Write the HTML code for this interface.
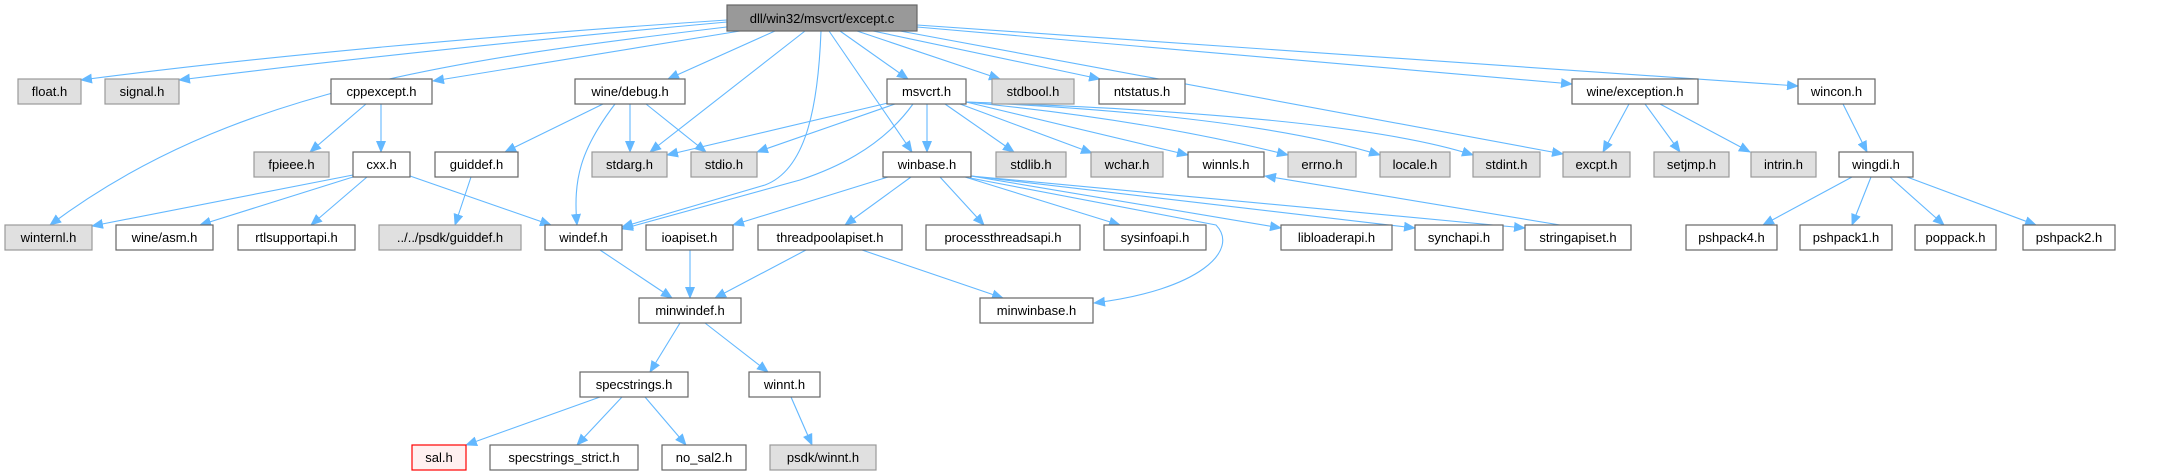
<!DOCTYPE html>
<html><head><meta charset="utf-8"><style>
html,body{margin:0;padding:0;background:#fff;}
svg{display:block;}
text{font-family:"Liberation Sans",sans-serif;font-size:13px;fill:#000;text-anchor:middle;}
.n{fill:#fff;stroke:#666;stroke-width:1.2;}
.g{fill:#e0e0e0;stroke:#999;stroke-width:1.2;}
.r{fill:#fff0f0;stroke:#f00;stroke-width:1.2;}
.t{fill:#999;stroke:#666;stroke-width:1.2;}
path{fill:none;stroke:#63b8ff;stroke-width:1.1;}
</style></head><body>
<svg width="2157" height="476" viewBox="0 0 2157 476" xmlns="http://www.w3.org/2000/svg">
<defs><marker id="a" markerUnits="userSpaceOnUse" markerWidth="12" markerHeight="10" refX="11" refY="5" orient="auto"><polygon points="0,0 12,5 0,10" fill="#63b8ff"/></marker></defs>
<g marker-end="url(#a)">
<path d="M727,20 Q350,45 81,80"/>
<path d="M727,22 Q420,50 179,80"/>
<path d="M735,26 C450,60 230,90 50,225"/>
<path d="M740,31 L433,81"/>
<path d="M775,31 L668,79"/>
<path d="M805,31 L650,152"/>
<path d="M821,31 C818,110 805,170 765,185 L622,227"/>
<path d="M829,31 L912,152"/>
<path d="M840,31 L908,79"/>
<path d="M857,31 L1000,79"/>
<path d="M873,31 L1100,79"/>
<path d="M900,31 L1563,154"/>
<path d="M917,27 L1572,84"/>
<path d="M917,25 L1798,86"/>
<path d="M366,104 L310,152"/>
<path d="M381,104 L381,152"/>
<path d="M353,175 L92,226"/>
<path d="M353,177 L200,225"/>
<path d="M367,177 L311,225"/>
<path d="M410,176 L551,225"/>
<path d="M603,104 L505,152"/>
<path d="M615,104 C580,150 573,180 577,225"/>
<path d="M630,104 L630,152"/>
<path d="M646,104 L706,152"/>
<path d="M471,177 L455,225"/>
<path d="M888,103 L667,155"/>
<path d="M895,104 L757,152"/>
<path d="M913,104 C880,150 830,170 800,180 L622,229"/>
<path d="M927,104 L927,152"/>
<path d="M945,104 L1014,152"/>
<path d="M960,104 L1092,153"/>
<path d="M966,102 L1188,155"/>
<path d="M966,102 Q1150,120 1288,155"/>
<path d="M966,102 Q1250,115 1380,155"/>
<path d="M966,102 Q1350,115 1473,155"/>
<path d="M888,177 L733,225"/>
<path d="M911,177 L845,225"/>
<path d="M940,177 L984,225"/>
<path d="M965,177 L1120,225"/>
<path d="M970,178 L1216,225 C1240,250 1200,290 1094,303"/>
<path d="M971,176 L1281,228"/>
<path d="M971,176 L1415,228"/>
<path d="M971,176 L1525,228"/>
<path d="M1560,225 L1265,176"/>
<path d="M600,250 L672,298"/>
<path d="M690,250 L690,298"/>
<path d="M806,250 L715,298"/>
<path d="M862,250 L1003,298"/>
<path d="M680,323 L650,372"/>
<path d="M705,323 L768,372"/>
<path d="M600,397 L466,445"/>
<path d="M622,397 L577,445"/>
<path d="M645,397 L686,445"/>
<path d="M791,397 L812,445"/>
<path d="M1629,104 L1603,152"/>
<path d="M1645,104 L1680,152"/>
<path d="M1660,104 L1750,152"/>
<path d="M1843,104 L1867,152"/>
<path d="M1852,177 L1763,225"/>
<path d="M1871,177 L1852,225"/>
<path d="M1890,177 L1944,225"/>
<path d="M1907,177 L2036,225"/>
</g>
<g>
<rect class="t" x="727" y="5" width="190" height="26"/><text x="822" y="23">dll/win32/msvcrt/except.c</text>
<rect class="g" x="18" y="79" width="63" height="25"/><text x="49.5" y="96">float.h</text>
<rect class="g" x="105" y="79" width="74" height="25"/><text x="142" y="96">signal.h</text>
<rect class="n" x="331" y="79" width="101" height="25"/><text x="381.5" y="96">cppexcept.h</text>
<rect class="n" x="575" y="79" width="110" height="25"/><text x="630" y="96">wine/debug.h</text>
<rect class="n" x="887" y="79" width="79" height="25"/><text x="926.5" y="96">msvcrt.h</text>
<rect class="g" x="992" y="79" width="82" height="25"/><text x="1033" y="96">stdbool.h</text>
<rect class="n" x="1099" y="79" width="86" height="25"/><text x="1142" y="96">ntstatus.h</text>
<rect class="n" x="1572" y="79" width="126" height="25"/><text x="1635" y="96">wine/exception.h</text>
<rect class="n" x="1798" y="79" width="77" height="25"/><text x="1836.5" y="96">wincon.h</text>

<rect class="g" x="254" y="152" width="75" height="25"/><text x="291.5" y="169">fpieee.h</text>
<rect class="n" x="353" y="152" width="57" height="25"/><text x="381.5" y="169">cxx.h</text>
<rect class="n" x="435" y="152" width="83" height="25"/><text x="476.5" y="169">guiddef.h</text>
<rect class="g" x="592" y="152" width="75" height="25"/><text x="629.5" y="169">stdarg.h</text>
<rect class="g" x="691" y="152" width="66" height="25"/><text x="724" y="169">stdio.h</text>
<rect class="n" x="883" y="152" width="88" height="25"/><text x="927" y="169">winbase.h</text>
<rect class="g" x="996" y="152" width="70" height="25"/><text x="1031" y="169">stdlib.h</text>
<rect class="g" x="1091" y="152" width="72" height="25"/><text x="1127" y="169">wchar.h</text>
<rect class="n" x="1188" y="152" width="76" height="25"/><text x="1226" y="169">winnls.h</text>
<rect class="g" x="1288" y="152" width="68" height="25"/><text x="1322" y="169">errno.h</text>
<rect class="g" x="1380" y="152" width="70" height="25"/><text x="1415" y="169">locale.h</text>
<rect class="g" x="1473" y="152" width="67" height="25"/><text x="1506.5" y="169">stdint.h</text>
<rect class="g" x="1563" y="152" width="67" height="25"/><text x="1596.5" y="169">excpt.h</text>
<rect class="g" x="1654" y="152" width="75" height="25"/><text x="1691.5" y="169">setjmp.h</text>
<rect class="g" x="1751" y="152" width="65" height="25"/><text x="1783.5" y="169">intrin.h</text>
<rect class="n" x="1839" y="152" width="74" height="25"/><text x="1876" y="169">wingdi.h</text>

<rect class="g" x="5" y="225" width="87" height="25"/><text x="48.5" y="242">winternl.h</text>
<rect class="n" x="116" y="225" width="97" height="25"/><text x="164.5" y="242">wine/asm.h</text>
<rect class="n" x="238" y="225" width="117" height="25"/><text x="296.5" y="242">rtlsupportapi.h</text>
<rect class="g" x="379" y="225" width="142" height="25"/><text x="450" y="242">../../psdk/guiddef.h</text>
<rect class="n" x="545" y="225" width="77" height="25"/><text x="583.5" y="242">windef.h</text>
<rect class="n" x="646" y="225" width="87" height="25"/><text x="689.5" y="242">ioapiset.h</text>
<rect class="n" x="758" y="225" width="144" height="25"/><text x="830" y="242">threadpoolapiset.h</text>
<rect class="n" x="926" y="225" width="154" height="25"/><text x="1003" y="242">processthreadsapi.h</text>
<rect class="n" x="1104" y="225" width="102" height="25"/><text x="1155" y="242">sysinfoapi.h</text>
<rect class="n" x="1281" y="225" width="111" height="25"/><text x="1336.5" y="242">libloaderapi.h</text>
<rect class="n" x="1415" y="225" width="88" height="25"/><text x="1459" y="242">synchapi.h</text>
<rect class="n" x="1525" y="225" width="106" height="25"/><text x="1578" y="242">stringapiset.h</text>
<rect class="n" x="1686" y="225" width="91" height="25"/><text x="1731.5" y="242">pshpack4.h</text>
<rect class="n" x="1800" y="225" width="92" height="25"/><text x="1846" y="242">pshpack1.h</text>
<rect class="n" x="1915" y="225" width="81" height="25"/><text x="1955.5" y="242">poppack.h</text>
<rect class="n" x="2023" y="225" width="92" height="25"/><text x="2069" y="242">pshpack2.h</text>

<rect class="n" x="639" y="298" width="102" height="25"/><text x="690" y="315">minwindef.h</text>
<rect class="n" x="980" y="298" width="113" height="25"/><text x="1036.5" y="315">minwinbase.h</text>

<rect class="n" x="580" y="372" width="108" height="25"/><text x="634" y="389">specstrings.h</text>
<rect class="n" x="749" y="372" width="71" height="25"/><text x="784.5" y="389">winnt.h</text>

<rect class="r" x="412" y="445" width="54" height="25"/><text x="439" y="462">sal.h</text>
<rect class="n" x="490" y="445" width="148" height="25"/><text x="564" y="462">specstrings_strict.h</text>
<rect class="n" x="662" y="445" width="84" height="25"/><text x="704" y="462">no_sal2.h</text>
<rect class="g" x="770" y="445" width="106" height="25"/><text x="823" y="462">psdk/winnt.h</text>
</g>
</svg>
</body></html>
